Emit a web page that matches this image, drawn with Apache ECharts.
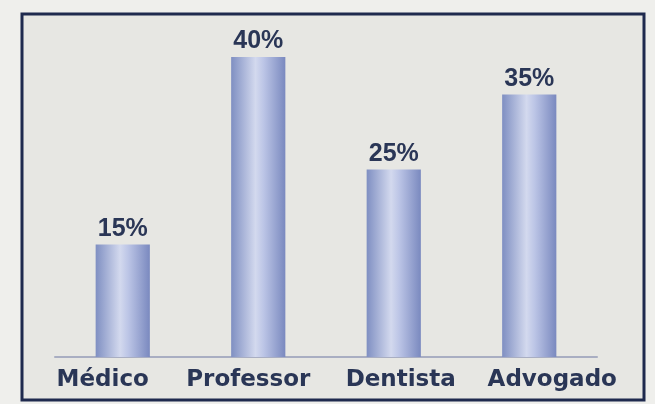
<!DOCTYPE html>
<html>
<head>
<meta charset="utf-8">
<script src="https://cdn.jsdelivr.net/npm/echarts@6/dist/echarts.min.js"></script>
<style>
  html, body { margin: 0; padding: 0; background: #efefec; }
  #chart { width: 655px; height: 404px; }
</style>
</head>
<body>
<div id="chart"></div>
<script>
// categorias e valores (%)
var categories = ['Médico', 'Professor', 'Dentista', 'Advogado'];
var values = [15, 40, 25, 35];

var myChart = echarts.init(document.getElementById('chart'));

var barColor = new echarts.graphic.LinearGradient(0, 0, 1, 0, [
	{ offset: 0, color: '#7f8fc2' },
	{ offset: 0.45, color: '#d3d9ee' },
	{ offset: 0.6, color: '#bcc5e6' },
	{ offset: 1, color: '#7a89bf' }
]);

var labelFont = {
	color: '#2a3656',
	fontFamily: 'DejaVu Sans',
	fontWeight: 'bold',
	fontSize: 23
};

// deslocamento horizontal dos rótulos (como na foto)
var richLabels = {
	c0: Object.assign({ padding: [0, 40, 0, 0] }, labelFont),
	c1: Object.assign({ padding: [0, 20, 0, 0] }, labelFont),
	c2: Object.assign({ padding: [0, 0, 0, 14] }, labelFont),
	c3: Object.assign({ padding: [0, 0, 0, 46] }, labelFont)
};

var option = {
	backgroundColor: '#efefec',
	animation: false,
	graphic: [{
		type: 'rect',
		shape: { x: 22, y: 14, width: 622, height: 386 },
		style: { fill: '#e7e7e3', stroke: '#1f2a4e', lineWidth: 3 },
		z: -1
	}],
	grid: { left: 55, right: 58, top: 57, bottom: 47 },
	xAxis: {
		type: 'category',
		data: categories,
		axisLine: { lineStyle: { color: '#a9aec2', width: 2 } },
		axisTick: { show: false },
		axisLabel: {
			interval: 0,
			margin: 12,
			formatter: function (v, i) { return '{c' + i + '|' + v + '}'; },
			rich: richLabels
		}
	},
	yAxis: {
		type: 'value',
		min: 0,
		max: 40,
		show: false
	},
	series: [{
		type: 'bar',
		data: values,
		barWidth: '40%',
		itemStyle: { color: barColor },
		label: {
			show: true,
			position: 'top',
			distance: 3,
			formatter: '{c}%',
			color: '#2a3656',
			fontFamily: 'Liberation Sans',
			fontWeight: 'bold',
			fontSize: 25
		}
	}]
};

myChart.setOption(option);
</script>
</body>
</html>
